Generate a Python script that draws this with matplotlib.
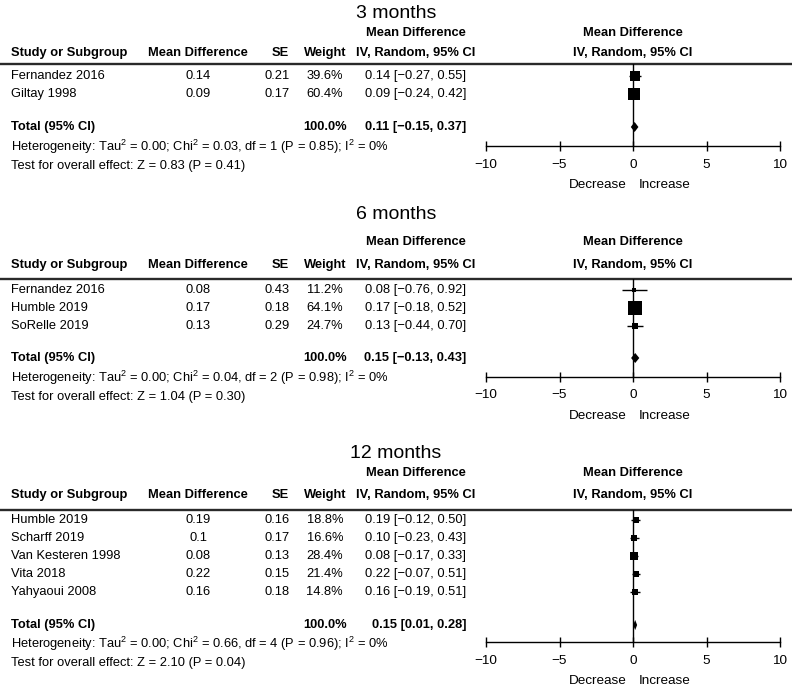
import numpy as np
import matplotlib
matplotlib.use('Agg')
import matplotlib.pyplot as plt

plt.rcParams['font.family'] = ['Liberation Sans', 'DejaVu Sans']
plt.rcParams['mathtext.fontset'] = 'custom'
plt.rcParams['mathtext.rm'] = 'Liberation Sans'

# 数据：三个随访时间点的研究结果
titles = ['3 months', '6 months', '12 months']
studies = [['Fernandez 2016', 'Giltay 1998'],
           ['Fernandez 2016', 'Humble 2019', 'SoRelle 2019'],
           ['Humble 2019', 'Scharff 2019', 'Van Kesteren 1998', 'Vita 2018', 'Yahyaoui 2008']]
md_text = [['0.14', '0.09'],
           ['0.08', '0.17', '0.13'],
           ['0.19', '0.1', '0.08', '0.22', '0.16']]
mean_diff = [[0.14, 0.09],
             [0.08, 0.17, 0.13],
             [0.19, 0.10, 0.08, 0.22, 0.16]]
se = [[0.21, 0.17],
      [0.43, 0.18, 0.29],
      [0.16, 0.17, 0.13, 0.15, 0.18]]
weight = [[39.6, 60.4],
          [11.2, 64.1, 24.7],
          [18.8, 16.6, 28.4, 21.4, 14.8]]
ci_lo = [[-0.27, -0.24],
         [-0.76, -0.18, -0.44],
         [-0.12, -0.23, -0.17, -0.07, -0.19]]
ci_hi = [[0.55, 0.42],
         [0.92, 0.52, 0.70],
         [0.50, 0.43, 0.33, 0.51, 0.51]]
total_md = [0.11, 0.15, 0.15]
total_lo = [-0.15, -0.13, 0.01]
total_hi = [0.37, 0.43, 0.28]
chi2 = ['0.03', '0.04', '0.66']
df = [1, 2, 4]
p_het = ['0.85', '0.98', '0.96']
z_val = ['0.83', '1.04', '2.10']
p_z = ['0.41', '0.30', '0.04']
ticks = [-10, -5, 0, 5, 10]

# 版面位置（像素，自上而下）
W, H = 792, 691
layout = [dict(title=13, h1=33, h2=53, line=64, row0=76, total=127, het=147, test=166, axis=146),
          dict(title=214, h1=242, h2=265, line=279, row0=290, total=358, het=378, test=397, axis=377),
          dict(title=453, h1=473, h2=495, line=510, row0=520, total=625, het=644, test=663, axis=642)]
row_step = 18
x_left, x_right = 486, 780
fs = 9.3


def fmt(v):
    s = '%.2f' % v
    return s.replace('-', '\u2212')


fig = plt.figure(figsize=(W / 100, H / 100), dpi=100)
bg = fig.add_axes([0, 0, 1, 1])
bg.set_xlim(0, W)
bg.set_ylim(H, 0)
bg.axis('off')

for p in range(3):
    L = layout[p]
    bg.text(W / 2, L['title'], titles[p], ha='center', va='center', fontsize=14)
    bg.text(416, L['h1'], 'Mean Difference', ha='center', va='center', fontsize=fs, fontweight='bold')
    bg.text(633, L['h1'], 'Mean Difference', ha='center', va='center', fontsize=fs, fontweight='bold')
    hdr = [(11, 'left', 'Study or Subgroup'), (198, 'center', 'Mean Difference'),
           (280, 'center', 'SE'), (325, 'center', 'Weight'),
           (416, 'center', 'IV, Random, 95% CI'), (633, 'center', 'IV, Random, 95% CI')]
    for x, ha, s in hdr:
        bg.text(x, L['h2'], s, ha=ha, va='center', fontsize=fs, fontweight='bold')
    bg.plot([0, W], [L['line'], L['line']], color='#2a2a2a', lw=1.7)

    n = len(studies[p])
    ys = L['row0'] + row_step * np.arange(n)
    for i in range(n):
        y = ys[i]
        bg.text(11, y, studies[p][i], ha='left', va='center', fontsize=fs)
        bg.text(198, y, md_text[p][i], ha='center', va='center', fontsize=fs)
        bg.text(290, y, '%.2f' % se[p][i], ha='right', va='center', fontsize=fs)
        bg.text(343, y, '%.1f%%' % weight[p][i], ha='right', va='center', fontsize=fs)
        bg.text(466, y, '%s [%s, %s]' % (fmt(mean_diff[p][i]), fmt(ci_lo[p][i]), fmt(ci_hi[p][i])),
                ha='right', va='center', fontsize=fs)

    bg.text(11, L['total'], 'Total (95% CI)', ha='left', va='center', fontsize=fs, fontweight='bold')
    bg.text(347, L['total'], '100.0%', ha='right', va='center', fontsize=fs, fontweight='bold')
    bg.text(466, L['total'], '%s [%s, %s]' % (fmt(total_md[p]), fmt(total_lo[p]), fmt(total_hi[p])),
            ha='right', va='center', fontsize=fs, fontweight='bold')
    bg.text(11, L['het'], 'Heterogeneity: Tau$^2$ = 0.00; Chi$^2$ = %s, df = %d (P = %s); I$^2$ = 0%%'
            % (chi2[p], df[p], p_het[p]), ha='left', va='center', fontsize=fs)
    bg.text(11, L['test'], 'Test for overall effect: Z = %s (P = %s)' % (z_val[p], p_z[p]),
            ha='left', va='center', fontsize=fs)
    bg.text(627, L['axis'] + 39, 'Decrease', ha='right', va='center', fontsize=fs + 0.4)
    bg.text(639, L['axis'] + 39, 'Increase', ha='left', va='center', fontsize=fs + 0.4)

    # 森林图
    ax = fig.add_axes([x_left / W, 1 - L['axis'] / H, (x_right - x_left) / W, (L['axis'] - L['line']) / H])
    ax.patch.set_alpha(0)
    ax.set_xlim(-10, 10)
    ax.set_ylim(L['axis'], L['line'])
    for s in ['top', 'left', 'right']:
        ax.spines[s].set_visible(False)
    ax.spines['bottom'].set_linewidth(1.0)
    ax.set_yticks([])
    ax.set_xticks(ticks)
    ax.set_xticklabels([str(t).replace('-', '\u2212') for t in ticks], fontsize=fs + 0.4)
    ax.tick_params(axis='x', direction='inout', length=7, width=1.0, pad=5.5)
    ax.axvline(0, color='black', lw=1.0)

    md = np.array(mean_diff[p])
    ax.hlines(ys, ci_lo[p], ci_hi[p], color='black', lw=1.0)
    for i in range(n):
        side = 1.8 + 0.123 * weight[p][i]
        ax.plot(md[i], ys[i], 's', color='black', ms=side, mew=0)
    yc = L['total']
    h = 5
    ax.fill([total_lo[p], total_md[p], total_hi[p], total_md[p]], [yc, yc - h, yc, yc + h],
            color='black', lw=0)

fig.savefig('out.png', dpi=100)
